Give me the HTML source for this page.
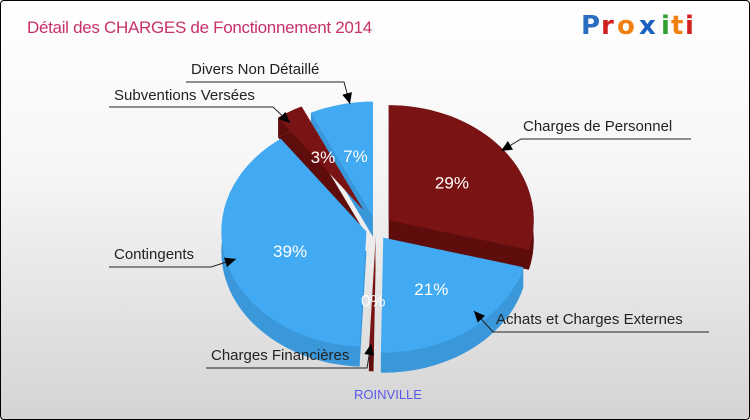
<!DOCTYPE html>
<html><head><meta charset="utf-8"><style>
html,body{margin:0;padding:0;}
body{width:750px;height:420px;overflow:hidden;font-family:"Liberation Sans",sans-serif;}
#wrap{position:absolute;left:0;top:0;width:748px;height:418px;border:1px solid #000;border-radius:4px;background:linear-gradient(#ffffff 0%,#f6f6f6 40%,#d4d4d4 100%);overflow:hidden;}
</style></head><body>
<div id="wrap">
<svg id="svg" width="748" height="418" xmlns="http://www.w3.org/2000/svg">
<text x="26" y="32" font-size="17" fill="#c8306a" font-family="Liberation Sans, sans-serif" style="letter-spacing:-0.3px">Détail des CHARGES de Fonctionnement 2014</text>
<g font-size="26" font-weight="bold" font-family="DejaVu Sans, sans-serif">
<text x="580" y="33" fill="#2a6fc0">P</text><text x="600" y="33" fill="#d02020">r</text><text x="616" y="33" fill="#f08010">o</text><text x="638" y="33" fill="#1a60c0">x</text><text x="660" y="33" fill="#30a030">i</text><text x="670" y="33" fill="#f08010">t</text><text x="684" y="33" fill="#d02020">i</text>
</g>
<g id="slices"></g>
<g id="pcts"></g>
<g id="labels"></g>
<text x="387" y="398" font-size="13" fill="#5a5ae8" text-anchor="middle">ROINVILLE</text>
</svg>
</div>
<script>
const categories=["Charges de Personnel","Achats et Charges Externes","Charges Financières","Contingents","Subventions Versées","Divers Non Détaillé"];
const values=[29,21,0.5,39,3,7];
const pctLabels=["29%","21%","0%","39%","3%","7%"];
const colors=["#7a1414","#42aaf2","#7a1414","#42aaf2","#7a1414","#42aaf2"];
const sides=["#5e0c0c","#3a98da","#5e0c0c","#3a98da","#5e0c0c","#3a98da"];
const explode=[16,12,8,10,24,14];
const cx=375,cy=228,rx=145,ry=115,depth=20;
const NS="http://www.w3.org/2000/svg";
const total=values.reduce((a,b)=>a+b,0);
function pt(ox,oy,t,dy){return [ox+rx*Math.cos(t),oy+ry*Math.sin(t)+(dy||0)];}
function slicePath(ox,oy,a0,a1,dy){
  let d="M"+ox+","+(oy+dy);
  const n=Math.max(2,Math.ceil((a1-a0)/0.05));
  for(let i=0;i<=n;i++){const p=pt(ox,oy,a0+(a1-a0)*i/n,dy);d+=" L"+p[0].toFixed(1)+","+p[1].toFixed(1);}
  return d+" Z";
}
function rimPath(ox,oy,a0,a1){
  const n=Math.max(2,Math.ceil((a1-a0)/0.05));let top=[],bot=[];
  for(let i=0;i<=n;i++){const t=a0+(a1-a0)*i/n;top.push(pt(ox,oy,t,0));bot.push(pt(ox,oy,t,depth));}
  let d="M"+top.map(p=>p[0].toFixed(1)+","+p[1].toFixed(1)).join(" L");
  d+=" L"+bot.reverse().map(p=>p[0].toFixed(1)+","+p[1].toFixed(1)).join(" L")+" Z";
  return d;
}
const g=document.getElementById("slices"),pg=document.getElementById("pcts");
let a=-Math.PI/2;const info=[];
values.forEach((v,i)=>{const sw=v/total*2*Math.PI;const m=a+sw/2;
  const ox=cx+explode[i]*Math.cos(m),oy=cy+explode[i]*Math.sin(m)*0.9;
  info.push({a0:a,a1:a+sw,m,ox,oy});a+=sw;});
const order=info.map((s,i)=>i).sort((p,q)=>Math.sin(info[p].m)-Math.sin(info[q].m));
order.forEach(i=>{const s=info[i];
  const b=document.createElementNS(NS,"path");
  b.setAttribute("d",slicePath(s.ox,s.oy,s.a0,s.a1,depth));b.setAttribute("fill",sides[i]);
  
  
  g.appendChild(b);
  const r=document.createElementNS(NS,"path");
  r.setAttribute("d",rimPath(s.ox,s.oy,s.a0,s.a1));r.setAttribute("fill",sides[i]);
  
  
  g.appendChild(r);
});
order.forEach(i=>{const s=info[i];
  const p=document.createElementNS(NS,"path");
  p.setAttribute("d",slicePath(s.ox,s.oy,s.a0,s.a1,0));p.setAttribute("fill",colors[i]);
  
  
  g.appendChild(p);
  const t=document.createElementNS(NS,"text");
  const q=[s.ox+0.55*rx*Math.cos(s.m),s.oy+0.55*ry*Math.sin(s.m)+7];
  t.setAttribute("x",q[0]);t.setAttribute("y",q[1]);t.setAttribute("fill","#fff");
  t.setAttribute("font-size","17");t.setAttribute("text-anchor","middle");
  t.textContent=pctLabels[i];
  
  
  pg.appendChild(t);
});
const callouts=[
 {t:categories[0],x:522,y:130,anc:"start",line:[[690,138],[520,138],[500,150]]},
 {t:categories[1],x:495,y:323,anc:"start",line:[[708,331],[492,331],[473,310]]},
 {t:categories[2],x:210,y:359,anc:"start",line:[[205,367],[366,367],[370,343]]},
 {t:categories[3],x:113,y:258,anc:"start",line:[[108,266],[210,266],[235,258]]},
 {t:categories[4],x:113,y:99,anc:"start",line:[[108,106],[272,106],[289,122]]},
 {t:categories[5],x:190,y:73,anc:"start",line:[[185,81],[343,81],[349,103]]}
];
const lg=document.getElementById("labels");
callouts.forEach((c,i)=>{
  const pl=document.createElementNS(NS,"polyline");
  pl.setAttribute("points",c.line.map(p=>p.join(",")).join(" "));
  pl.setAttribute("fill","none");pl.setAttribute("stroke","#222");pl.setAttribute("stroke-width","1");
  
  
  lg.appendChild(pl);
  const p1=c.line[c.line.length-2],p2=c.line[c.line.length-1];
  const ang=Math.atan2(p2[1]-p1[1],p2[0]-p1[0]);const L=11,W=5;
  const bx=p2[0]-L*Math.cos(ang),by=p2[1]-L*Math.sin(ang);
  const ar=document.createElementNS(NS,"polygon");
  ar.setAttribute("points",[p2,[bx+W*Math.sin(ang),by-W*Math.cos(ang)],[bx-W*Math.sin(ang),by+W*Math.cos(ang)]].map(p=>p.join(",")).join(" "));
  ar.setAttribute("fill","#000");
  
  
  lg.appendChild(ar);
  const t=document.createElementNS(NS,"text");
  t.setAttribute("x",c.x);t.setAttribute("y",c.y);t.setAttribute("font-size","15");t.setAttribute("fill","#222");
  t.setAttribute("text-anchor",c.anc);t.textContent=c.t;
  
  
  lg.appendChild(t);
});
</script>
</body></html>
